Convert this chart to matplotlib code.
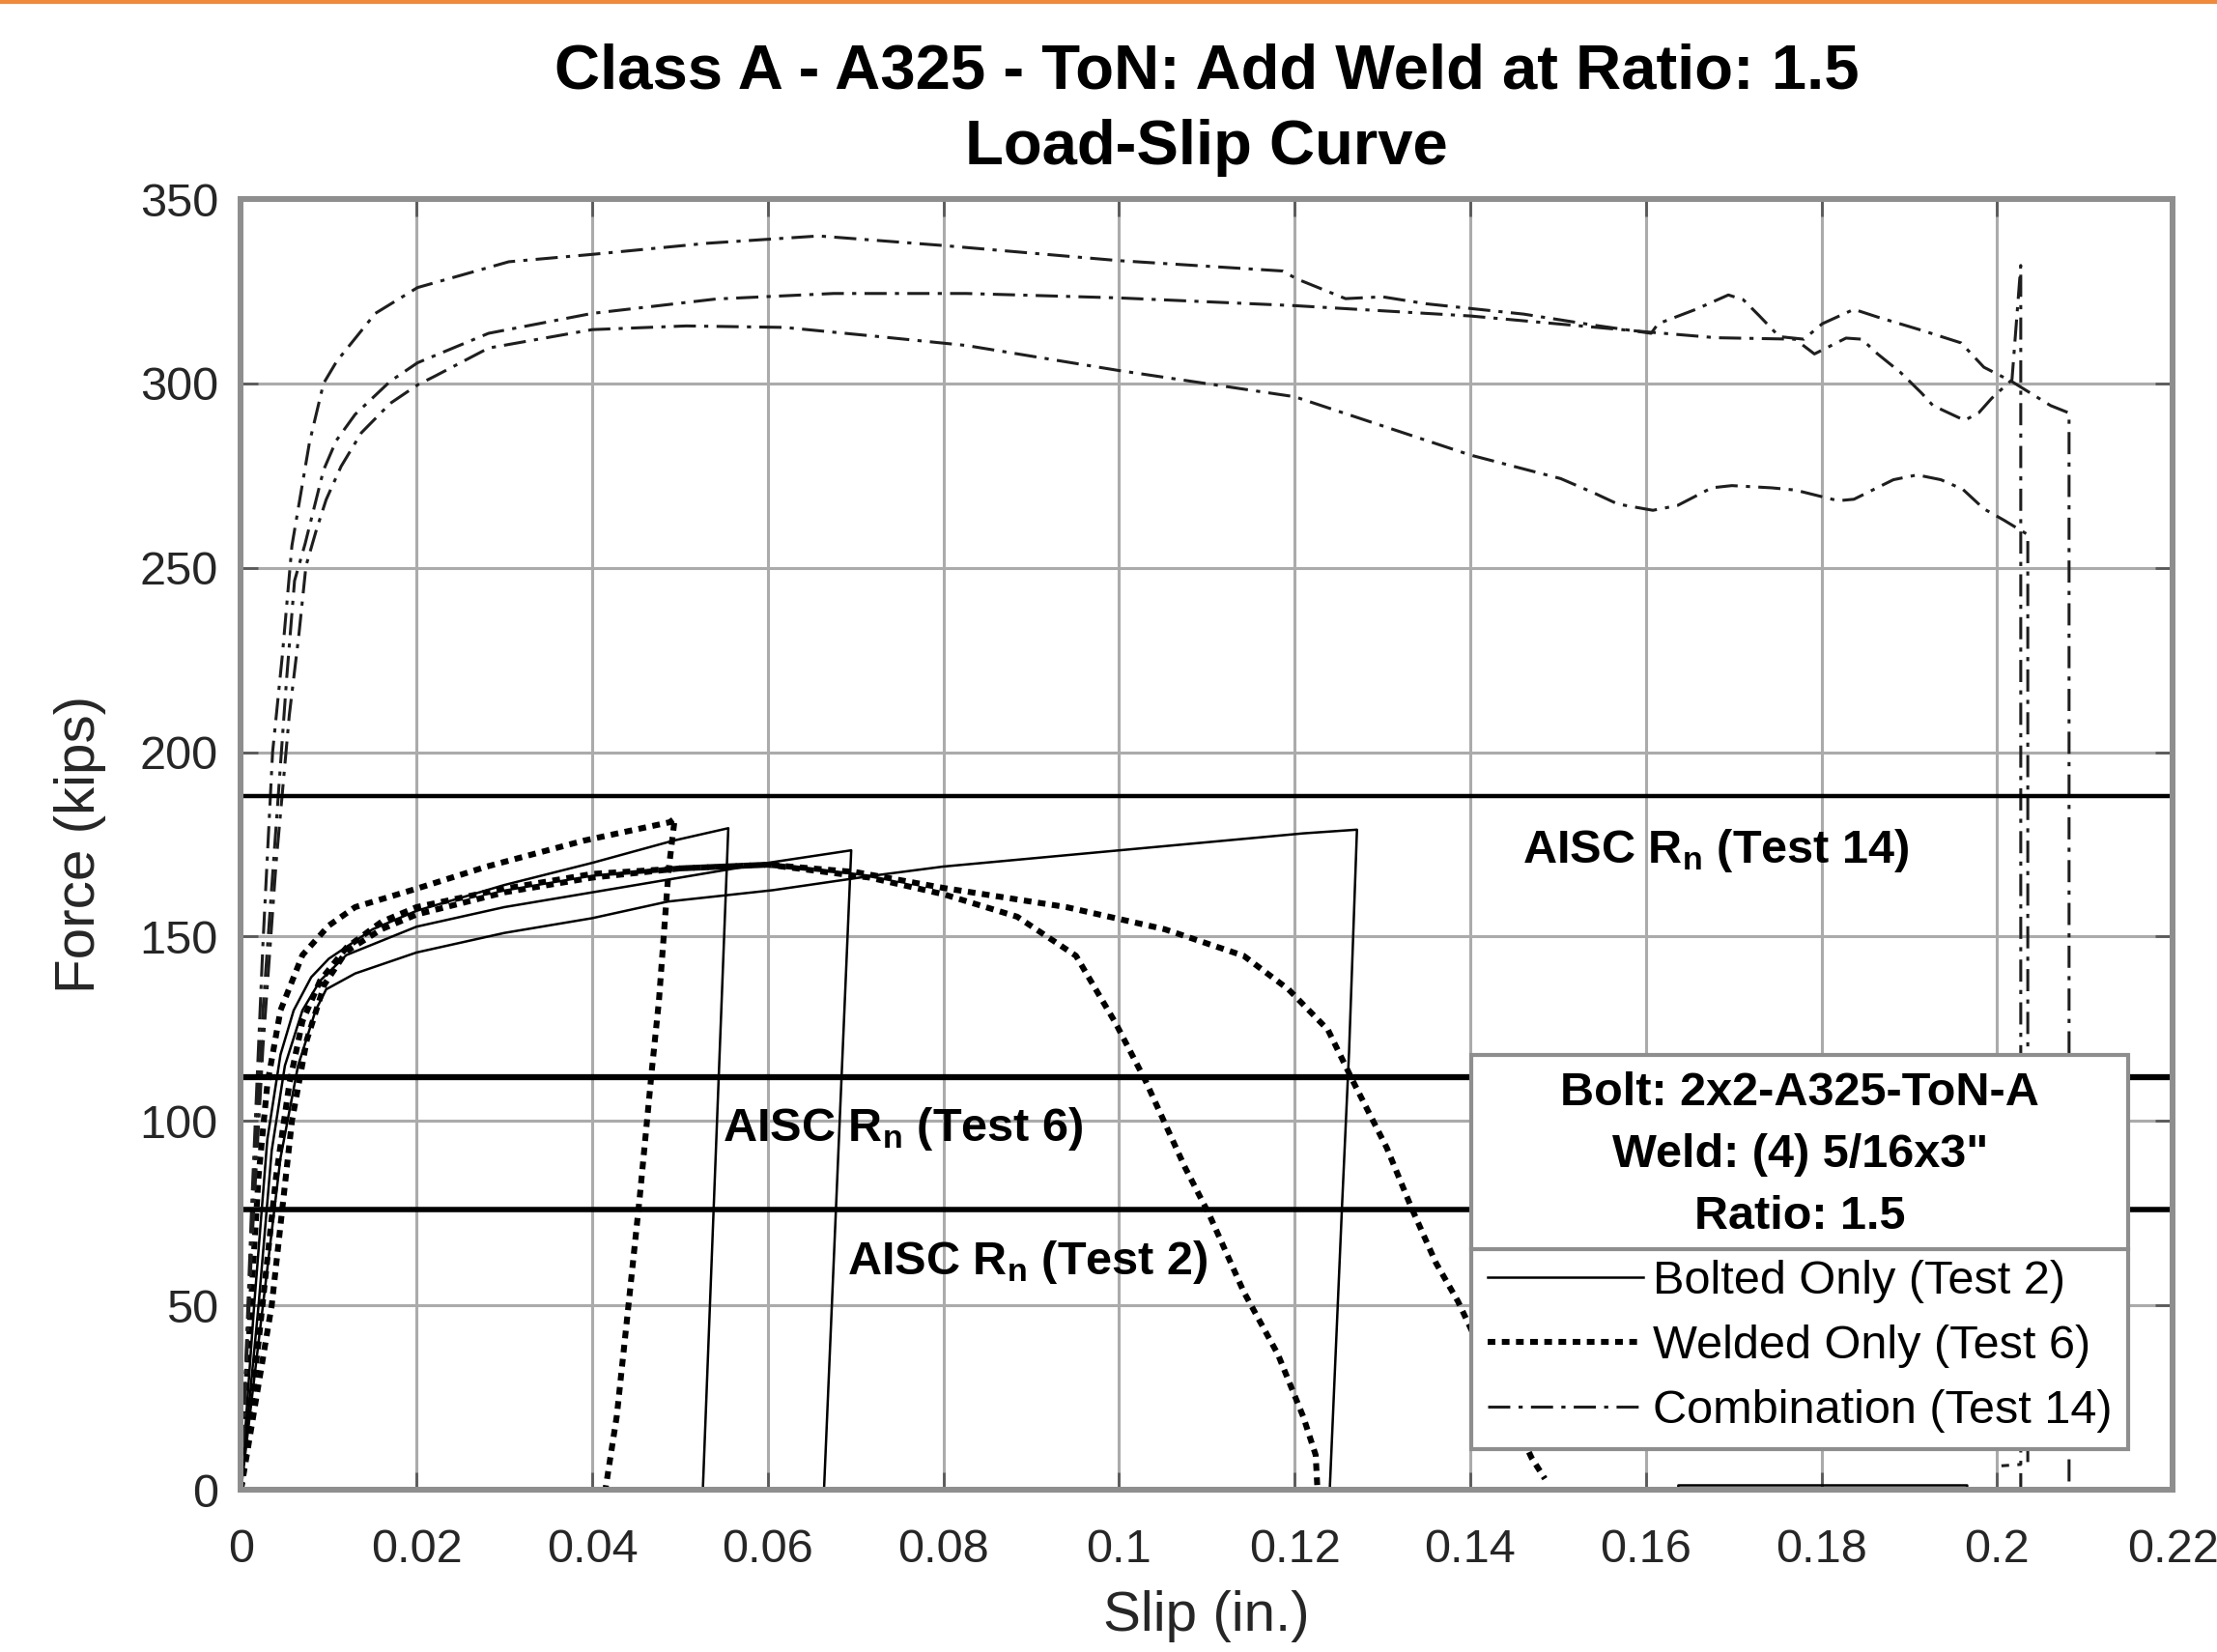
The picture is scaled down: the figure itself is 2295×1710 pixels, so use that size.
import matplotlib
matplotlib.use("Agg")
import matplotlib.pyplot as plt
from matplotlib.lines import Line2D
from matplotlib.patches import Rectangle

plt.rcParams['font.family'] = ['Liberation Sans', 'DejaVu Sans']
plt.rcParams['mathtext.fontset'] = 'custom'
plt.rcParams['mathtext.rm'] = 'Liberation Sans'
plt.rcParams['mathtext.bf'] = 'Liberation Sans:bold'
plt.rcParams['mathtext.default'] = 'regular'

# AISC nominal strengths (kips)
rn_test2 = 76
rn_test6 = 112
rn_test14 = 188

# Bolted only (Test 2) - three traces
bolt_a_x = [0, 0.0015, 0.003, 0.0045, 0.006, 0.008, 0.010, 0.015, 0.020, 0.030, 0.040, 0.0492, 0.0555, 0.0526]
bolt_a_y = [0, 50, 95, 118, 130, 139, 144, 152, 157, 164, 170, 176, 179.4, 0]
bolt_b_x = [0, 0.002, 0.0035, 0.005, 0.007, 0.009, 0.012, 0.020, 0.030, 0.040, 0.050, 0.060, 0.0695, 0.0664]
bolt_b_y = [0, 50, 92, 115, 130, 138, 145, 152.7, 158, 162, 166, 170, 173.4, 0]
bolt_c_x = [0, 0.0025, 0.0045, 0.0065, 0.0085, 0.0097, 0.013, 0.020, 0.030, 0.040, 0.0486, 0.0606,
            0.0716, 0.080, 0.121, 0.1271, 0.1262, 0.1254, 0.124, 0.1637, 0.1637, 0.1966, 0.1966, 0.2167]
bolt_c_y = [0, 50, 90, 115, 130, 135.7, 140, 145.7, 151, 155, 159.5, 162.6,
            166.4, 169, 178, 179, 118.8, 77, 0, 0, 1.2, 1.2, 0, 0]

# Welded only (Test 6)
weld_a_x = [0, 0.001, 0.002, 0.003, 0.0045, 0.007, 0.010, 0.013, 0.020, 0.028, 0.039, 0.0488,
            0.0494, 0.0487, 0.0476, 0.0468, 0.0454, 0.044, 0.0428, 0.0415]
weld_a_y = [0, 45, 85, 110, 130, 145, 153, 158, 163, 169, 176, 181,
            182, 168, 132.6, 114, 79, 47, 20, 0]
weld_b_x = [0, 0.002, 0.004, 0.0055, 0.007, 0.009, 0.012, 0.016, 0.020, 0.030, 0.040, 0.050, 0.060,
            0.0716, 0.080, 0.0884, 0.0951, 0.0996, 0.103, 0.1075, 0.1103, 0.1142, 0.1181, 0.121, 0.1224, 0.1226]
weld_b_y = [0, 40, 85, 110, 127, 138, 147, 154, 158, 163, 167, 168.5, 169.5,
            166, 161.5, 155.4, 144.8, 126.6, 111, 87.5, 74.5, 53.7, 36.7, 19.7, 9.4, 0]
weld_c_x = [0, 0.0035, 0.0058, 0.0075, 0.0095, 0.012, 0.016, 0.020, 0.030, 0.040, 0.050, 0.060, 0.070,
            0.080, 0.094, 0.1052, 0.1142, 0.1193, 0.1238, 0.1266, 0.1305, 0.1333, 0.1361, 0.1386, 0.147, 0.1485]
weld_c_y = [0, 50, 100, 122, 137, 146, 152, 156, 162, 166, 168.5, 169.5, 167.5,
            163.2, 158, 152, 144.8, 135.7, 124.7, 111, 92.7, 76.5, 61.5, 51.1, 8.6, 3]

# Combination (Test 14)
comb_a_x = [0, 0.0012, 0.0025, 0.0036, 0.0047, 0.0058, 0.0078, 0.0094, 0.0109, 0.0153, 0.0201, 0.0305,
            0.040, 0.053, 0.0658, 0.080, 0.100, 0.1186, 0.1203, 0.1258, 0.130, 0.135, 0.1461, 0.1541,
            0.1606, 0.1614, 0.1657, 0.1694, 0.1711, 0.1729, 0.1752, 0.178, 0.1801, 0.1837, 0.1864,
            0.1913, 0.1959, 0.1985, 0.2017, 0.2061, 0.2082, 0.2082]
comb_a_y = [0, 76, 148, 200, 226, 256, 284, 300, 306, 319, 326, 333,
            335, 338, 340, 337.4, 333.3, 330.5, 328.3, 323, 323.5, 321.6, 318.8, 315.8,
            313.6, 316.2, 320.1, 324, 322.7, 318.4, 312.7, 312, 316.2, 320.1, 318,
            314.5, 311, 304.4, 300.5, 294, 292, 0]
comb_b_x = [0, 0.0012, 0.0025, 0.004, 0.0052, 0.0061, 0.0073, 0.0094, 0.01085, 0.013, 0.017, 0.0201,
            0.0282, 0.040, 0.0541, 0.0675, 0.0826, 0.100, 0.120, 0.140, 0.160, 0.168, 0.177, 0.1792,
            0.1828, 0.1846, 0.1864, 0.189, 0.1914, 0.1927, 0.1963, 0.1979, 0.1994, 0.2017, 0.2027, 0.2027]
comb_b_y = [0, 70, 130, 180, 220, 246.5, 256.5, 276.5, 284.5, 291.6, 300.6, 305.6,
            313.6, 319, 322.9, 324.4, 324.4, 323.2, 321.1, 318.3, 314, 312.4, 312, 308,
            312.3, 312, 308, 303, 297.4, 294, 290, 292, 296, 301, 332, 0]
comb_c_x = [0, 0.0012, 0.0025, 0.004, 0.0055, 0.0066, 0.0074, 0.0086, 0.0097, 0.0114, 0.0137, 0.017,
            0.0201, 0.0221, 0.0282, 0.040, 0.0507, 0.0619, 0.0731, 0.0826, 0.100, 0.120, 0.140, 0.1503,
            0.1541, 0.1568, 0.1608, 0.1636, 0.1675, 0.1698, 0.1743, 0.177, 0.1819, 0.1837, 0.1882,
            0.1909, 0.1936, 0.1961, 0.1985, 0.2008, 0.2035, 0.2035, 0.2005]
comb_c_y = [0, 65, 120, 170, 210, 232, 250.5, 260.4, 268.5, 277.5, 286.6, 294.6,
            299.6, 302, 309.6, 314.6, 315.6, 315.2, 312.6, 310.3, 303.5, 296.4, 280.6, 274.2,
            270.3, 267.3, 265.6, 266.9, 271.7, 272.3, 271.7, 271.1, 268.2, 268.6, 273.9,
            275.2, 273.9, 271.3, 266, 262.9, 259, 7, 6.5]

x_ticks = [0, 0.02, 0.04, 0.06, 0.08, 0.1, 0.12, 0.14, 0.16, 0.18, 0.2, 0.22]
x_tick_labels = ['0', '0.02', '0.04', '0.06', '0.08', '0.1', '0.12', '0.14', '0.16', '0.18', '0.2', '0.22']
y_ticks = [0, 50, 100, 150, 200, 250, 300, 350]

fig = plt.figure(figsize=(22.95, 17.1), dpi=100)
ax = fig.add_axes([0.1087, 0.0982, 0.8713, 0.7813])

grey = '#8e8e8e'
txt = '#262626'
bolt_style = dict(color='black', lw=1.8, ls='-')
weld_style = dict(color='black', lw=4.4, ls=(0, (1.3, 1.1)), dash_capstyle='butt')
comb_style = dict(color='#1e1e1e', lw=2.2, ls=(0, (7.5, 2.8, 1.4, 2.8)))

ax.plot(bolt_a_x, bolt_a_y, label='Bolted Only (Test 2)', **bolt_style)
ax.plot(bolt_b_x, bolt_b_y, **bolt_style)
ax.plot(bolt_c_x, bolt_c_y, **bolt_style)
ax.plot(weld_a_x, weld_a_y, label='Welded Only (Test 6)', **weld_style)
ax.plot(weld_b_x, weld_b_y, **weld_style)
ax.plot(weld_c_x, weld_c_y, **weld_style)
ax.plot(comb_a_x, comb_a_y, label='Combination (Test 14)', **comb_style)
ax.plot(comb_b_x, comb_b_y, **comb_style)
ax.plot(comb_c_x, comb_c_y, **comb_style)

ax.axhline(rn_test14, color='black', lw=3.2)
ax.axhline(rn_test6, color='black', lw=4.5)
ax.axhline(rn_test2, color='black', lw=4.0)

lab_kw = dict(fontsize=35, fontweight='bold', va='baseline', color='black')
ax.text(0.1459, 170, r'AISC R$_{n}$ (Test 14)', **lab_kw)
ax.text(0.0549, 94.5, r'AISC R$_{n}$ (Test 6)', **lab_kw)
ax.text(0.0690, 58.5, r'AISC R$_{n}$ (Test 2)', **lab_kw)

ax.set_xlim(0, 0.22)
ax.set_ylim(0, 350)
ax.set_xticks(x_ticks)
ax.set_xticklabels(x_tick_labels)
ax.set_yticks(y_ticks)
ax.set_axisbelow(True)
ax.grid(True, color='#ababab', lw=2.2)
for s in ax.spines.values():
    s.set_color(grey)
    s.set_linewidth(4.3)
ax.tick_params(axis='both', direction='in', length=13, width=2, color='#5a5a5a',
               labelsize=35, labelcolor=txt, top=True, right=True)
ax.tick_params(axis='x', pad=29)
ax.tick_params(axis='y', pad=17)

ax.set_xlabel('Slip (in.)', fontsize=42, color=txt)
ax.set_ylabel('Force (kips)', fontsize=42, color=txt)
ax.xaxis.set_label_coords(0.5, -0.078)
ax.yaxis.set_label_coords(-0.0695, 0.5)

cx = 0.1087 + 0.8713 / 2
fig.text(cx, 1 - 92 / 1710, 'Class A - A325 - ToN: Add Weld at Ratio: 1.5',
         ha='center', va='baseline', fontsize=47, fontweight='bold')
fig.text(cx, 1 - 170 / 1710, 'Load-Slip Curve',
         ha='center', va='baseline', fontsize=47, fontweight='bold')

leg = ax.legend(loc='lower right', bbox_to_anchor=(0.977, 0.0314), borderaxespad=0,
                fontsize=35, title='Bolt: 2x2-A325-ToN-A\nWeld: (4) 5/16x3"\nRatio: 1.5',
                title_fontproperties={'weight': 'bold', 'size': 35},
                fancybox=False, framealpha=1, edgecolor=grey, handlelength=3.3,
                handletextpad=0.2, labelspacing=0.45, borderpad=0.35)
leg.get_frame().set_linewidth(3)
leg.get_title().set_multialignment('center')
leg.get_title().set_linespacing(1.55)

# orange strip at the top of the page
fig.add_artist(Rectangle((0, 1 - 4 / 1710), 1, 4 / 1710, transform=fig.transFigure,
                         color='#ef8a3b', lw=0))

# separator between legend title and entries
fig.canvas.draw()
r = fig.canvas.get_renderer()
tb = leg.get_title().get_window_extent(r)
hb = leg._legend_handle_box.get_window_extent(r)
fb = leg.get_frame().get_window_extent(r)
ysep = (tb.y0 + hb.y1) / 2 / fig.bbox.height
fig.add_artist(Line2D([fb.x0 / fig.bbox.width, fb.x1 / fig.bbox.width], [ysep, ysep],
                      transform=fig.transFigure, color=grey, lw=3))

fig.savefig('out.png', dpi=100)
